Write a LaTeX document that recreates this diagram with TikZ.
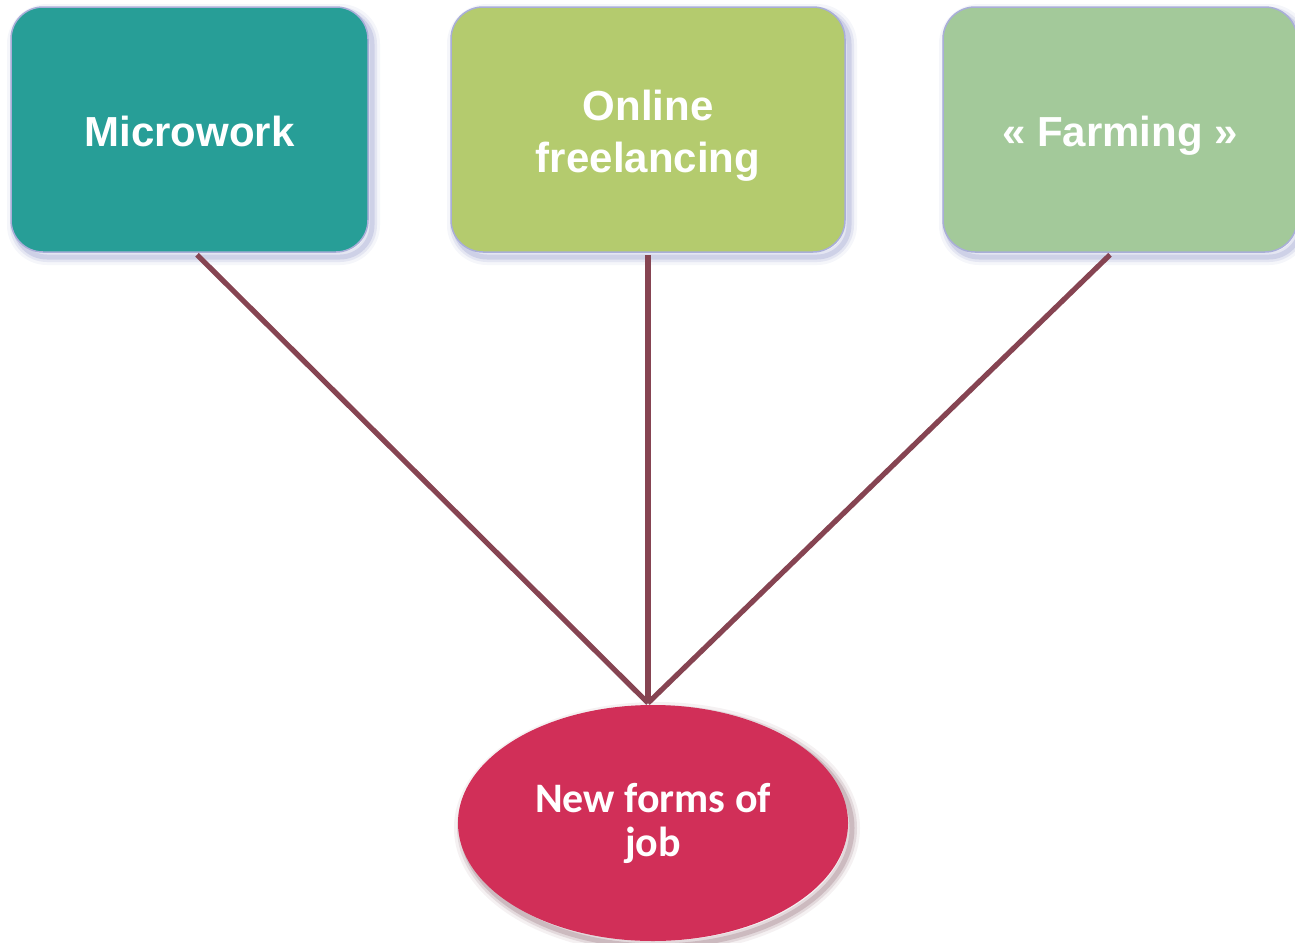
\documentclass[tikz,border=0pt]{standalone}
\usepackage{fontspec}
\setmainfont{Liberation Sans}
\newfontfamily\calfont{Carlito}
\usetikzlibrary{shapes.geometric,calc}
\definecolor{teal1}{HTML}{279E97}
\definecolor{olive1}{HTML}{B4CB6E}
\definecolor{sage1}{HTML}{A3C99A}
\definecolor{rose1}{HTML}{D12F58}
\definecolor{edge1}{HTML}{A9AED8}
\definecolor{link1}{HTML}{864452}
\definecolor{shade1}{HTML}{7F86C0}
\definecolor{shade2}{HTML}{7A4A58}
\tikzset{
  softshadow/.style={
    preaction={draw=#1, line width=8pt, draw opacity=0.08, transform canvas={shift={(2pt,-2.5pt)}}},
    preaction={draw=#1, line width=5pt, draw opacity=0.14, transform canvas={shift={(2pt,-2.5pt)}}},
    preaction={draw=#1, line width=2.5pt, draw opacity=0.22, transform canvas={shift={(2pt,-2.5pt)}}}}
}
\begin{document}
\begin{tikzpicture}[x=0.5pt,y=-0.5pt,
  boxnode/.style={draw=edge1, line width=0.75pt, rounded corners=16pt,
    minimum height=122.5pt, inner sep=0pt, softshadow=shade1},
  boxtext/.style={align=center, text=white, inner sep=0pt,
    font=\fontsize{21}{26}\selectfont\bfseries},
  jobnode/.style={ellipse, fill=rose1, minimum width=195pt, minimum height=118pt,
    inner sep=0pt, align=center, text=white,
    font=\calfont\fontsize{21}{22}\selectfont\bfseries, softshadow=shade2},
  linkline/.style={draw=link1, line width=2.6pt}]
\useasboundingbox (0,0) rectangle (1295,942);
\coordinate (meet) at (648,703);
\node[boxnode, fill=teal1, minimum width=178.5pt,
  label={[boxtext, text height=15pt, text depth=4pt, yshift=-3pt]center:Microwork}] (mw) at (189.5,129.5) {};
\node[boxnode, fill=olive1, minimum width=197pt,
  label={[boxtext, yshift=-3pt]center:{Online\\freelancing}}] (of) at (648,129.5) {};
\node[boxnode, fill=sage1, minimum width=177pt,
  label={[boxtext, text height=15pt, text depth=4pt, yshift=-3pt]center:{« Farming »}}] (fa) at (1120,129.5) {};
\node[jobnode] (job) at (653,823) {New forms of\\job};
\draw[linkline] ($(mw.south)+(7.5,2)$) -- (meet);
\draw[linkline] ($(of.south)+(0,2)$) -- (meet);
\draw[linkline] ($(fa.south)+(-10,2)$) -- (meet);
\end{tikzpicture}
\end{document}
